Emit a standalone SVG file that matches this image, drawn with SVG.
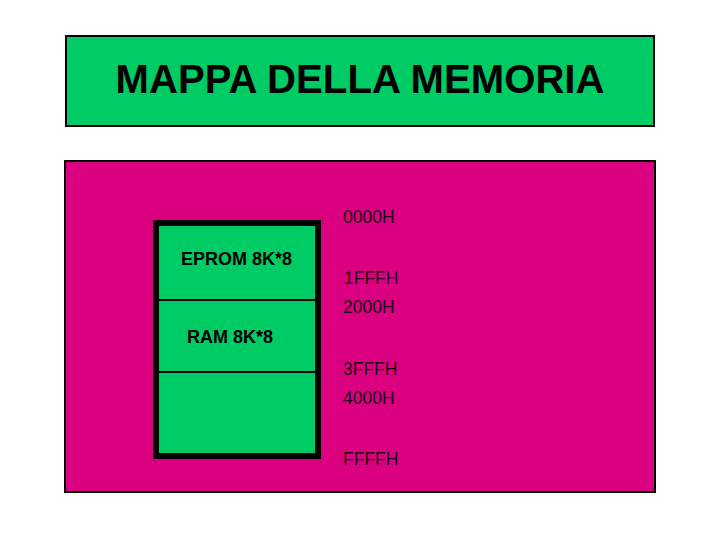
<svg xmlns="http://www.w3.org/2000/svg" width="720" height="540" viewBox="0 0 720 540">
<style>
.box{stroke:#000;stroke-width:2}
.green{fill:#00CC66}
.t{font-family:"Liberation Sans",Arial,sans-serif;fill:#000}
.b{font-weight:bold;font-size:18px}
.a{font-size:17.5px;fill:#1a0010}
</style>
<rect width="720" height="540" fill="#fff"/>
<g id="title">
<rect class="box green" x="66" y="36" width="588" height="90"/>
<text class="t" x="360" y="93" text-anchor="middle" font-size="40" font-weight="bold" textLength="489" lengthAdjust="spacingAndGlyphs">MAPPA DELLA MEMORIA</text>
</g>
<g id="panel">
<rect class="box" fill="#DB0080" x="65" y="161" width="590" height="331"/>
</g>
<g id="memory">
<rect class="green" x="156" y="223" width="162" height="233" stroke="#000" stroke-width="6"/>
<line x1="159" y1="300" x2="315" y2="300" stroke="#000" stroke-width="2"/>
<line x1="159" y1="372" x2="315" y2="372" stroke="#000" stroke-width="2"/>
<text class="t b" x="236.5" y="265" text-anchor="middle">EPROM 8K*8</text>
<text class="t b" x="230" y="343" text-anchor="middle">RAM 8K*8</text>
</g>
<g id="addresses">
<text class="t a" x="343" y="223">0000H</text>
<text class="t a" x="344" y="284">1FFFH</text>
<text class="t a" x="343" y="313">2000H</text>
<text class="t a" x="343" y="375">3FFFH</text>
<text class="t a" x="343" y="404">4000H</text>
<text class="t a" x="343" y="465">FFFFH</text>
</g>
</svg>
